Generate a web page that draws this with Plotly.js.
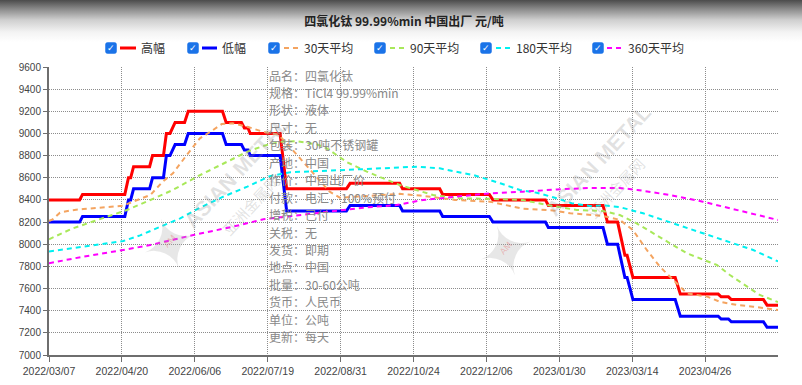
<!DOCTYPE html>
<html><head><meta charset="utf-8">
<script src="https://cdn.plot.ly/plotly-3.0.1.min.js"></script>
<style>
html,body{margin:0;padding:0;width:802px;height:385px;overflow:hidden;}
body{background:linear-gradient(to bottom,#4b4b4b 0px,#8a8a8a 9px,#cfcfcf 20px,#f3f3f3 32px,#ffffff 42px);}
#chart{width:802px;height:385px;}
</style></head><body><div id="chart"></div>
<script>
// ---------- data ----------
const chartTitle = '四氯化钛 99.99%min 中国出厂 元/吨';
const tickLabels = ['2022/03/07','2022/04/20','2022/06/06','2022/07/19','2022/08/31','2022/10/24','2022/12/06','2023/01/30','2023/03/14','2023/04/26'];
const seriesNames = ['高幅','低幅','30天平均','90天平均','180天平均','360天平均'];

// time in tick intervals (one interval between consecutive tick labels)
const priceT = [0,0.42,0.46,1.04,1.09,1.12,1.16,1.38,1.42,1.57,1.61,1.66,1.73,1.86,1.91,2.38,2.43,2.64,2.68,2.73,2.76,3.17,3.26,4.08,4.13,4.81,4.85,5.36,5.40,6.04,6.09,6.81,6.85,7.60,7.66,7.80,7.90,7.93,8.01,8.59,8.66,9.18,9.22,9.32,9.36,9.80,9.85,10];
const highPrice = [8400,8400,8450,8450,8600,8600,8700,8700,8800,8800,9000,9000,9100,9100,9200,9200,9100,9100,9050,9050,9000,9000,8500,8500,8550,8550,8500,8500,8450,8450,8400,8400,8350,8350,8200,8200,7900,7900,7700,7700,7550,7550,7525,7525,7500,7500,7450,7450];
const lowPrice  = [8200,8200,8250,8250,8400,8400,8500,8500,8600,8600,8800,8800,8900,8900,9000,9000,8900,8900,8850,8850,8800,8800,8300,8300,8350,8350,8300,8300,8250,8250,8200,8200,8150,8150,8000,8000,7700,7700,7500,7500,7350,7350,7325,7325,7300,7300,7250,7250];

const ma30T = [0,0.05,0.15,0.29,0.47,0.70,1.02,1.15,1.39,1.56,1.70,1.89,2.07,2.25,2.37,2.52,2.72,2.93,3.14,3.24,3.40,3.58,3.72,3.85,3.99,4.13,4.40,4.81,5.09,5.57,6.05,6.50,6.91,7.15,7.60,7.83,8.01,8.20,8.38,8.56,8.75,9.03,9.20,9.44,9.66,10];
const ma30V = [8210,8225,8285,8305,8318,8330,8348,8384,8444,8565,8640,8806,8956,9031,9085,9092,9061,9016,8990,8926,8806,8670,8565,8474,8420,8425,8440,8455,8440,8400,8384,8320,8305,8280,8255,8220,8128,7948,7797,7677,7557,7527,7481,7451,7436,7406];

const ma90T = [0,0.33,0.80,1.07,1.39,1.70,2.03,2.44,2.72,2.93,3.17,3.40,3.68,3.81,4.09,4.36,4.81,5.27,5.64,6.05,6.50,6.91,7.24,7.60,7.83,8.06,8.28,8.52,8.75,8.97,9.16,9.34,9.57,9.75,10];
const ma90V = [8045,8144,8249,8309,8399,8490,8610,8745,8835,8885,8925,8930,8900,8866,8740,8655,8535,8444,8414,8410,8399,8345,8309,8300,8264,8189,8099,8008,7918,7858,7813,7722,7617,7542,7478];

const ma180T = [0,0.47,0.70,1.02,1.25,1.48,1.80,2.07,2.39,2.72,3.03,3.31,3.58,3.85,4.31,4.72,5.05,5.36,5.82,6.19,6.46,6.69,6.94,7.17,7.42,7.63,7.83,8.15,8.42,8.75,9.11,9.38,9.66,10];
const ma180V = [7935,7978,7995,8029,8080,8144,8234,8330,8429,8520,8615,8650,8655,8665,8678,8692,8700,8685,8625,8550,8490,8465,8420,8370,8345,8350,8335,8279,8219,8144,8068,8008,7948,7845];

const ma360T = [0,0.47,1.02,1.39,1.98,2.52,2.94,3.62,4.31,4.77,5.13,5.60,6.05,6.50,6.97,7.42,7.83,8.07,8.52,8.97,9.44,10];
const ma360V = [7828,7888,7948,7993,8083,8158,8225,8279,8330,8354,8399,8430,8460,8474,8495,8508,8508,8490,8444,8384,8309,8219];

const infoRows = ['品名：四氯化钛','规格：TiCl4 99.99%min','形状：液体','尺寸：无','包装：30吨不锈钢罐','产地：中国','作价：中国出厂价','付款：电汇，100%预付','增税：已付','关税：无','发货：即期','地点：中国','批量：30-60公吨','货币：人民币','单位：公吨','更新：每天'];

// ---------- styles ----------
const colors = ['#ff0000','#0000ff','#f4a460','#a8e85a','#00f0f0','#ff00ff'];
const W = 802, H = 385, ML = 49, MR = 24, MT = 67, MB = 30;
const PW = W - ML - MR, PH = H - MT - MB;
const fx = px => (px - ML) / PW;
const fy = py => (H - MB - py) / PH;
const cjk = '"Noto Sans CJK SC", "Noto Sans", sans-serif';
const dashPat = '5px,4px';

const seriesT = [priceT, priceT, ma30T, ma90T, ma180T, ma360T];
const seriesV = [highPrice, lowPrice, ma30V, ma90V, ma180V, ma360V];

const traces = seriesNames.map((name, i) => ({
  type: 'scatter', mode: 'lines', name: name,
  x: seriesT[i], y: seriesV[i],
  line: i < 2 ? {color: colors[i], width: 3} : {color: colors[i], width: 2, dash: dashPat},
  hoverinfo: 'skip', showlegend: false
}));

// ---------- custom legend (checkbox + line + text) ----------
const legendPos = [
  {cb: 111, l0: 120, l1: 136, tx: 139},
  {cb: 193, l0: 202, l1: 217, tx: 220},
  {cb: 274, l0: 284, l1: 299, tx: 302},
  {cb: 380, l0: 390, l1: 405, tx: 408},
  {cb: 486, l0: 496, l1: 511, tx: 514},
  {cb: 598, l0: 607, l1: 622, tx: 626}
];
const legY = 48;
const shapes = [];
const annotations = [];
function roundRect(x0, y0, x1, y1, r) {
  const rx = r / PW, ry = r / PH;
  const X0 = fx(x0), X1 = fx(x1), Y0 = fy(y1), Y1 = fy(y0);
  return `M${X0+rx},${Y0} L${X1-rx},${Y0} Q${X1},${Y0} ${X1},${Y0+ry} L${X1},${Y1-ry} Q${X1},${Y1} ${X1-rx},${Y1} L${X0+rx},${Y1} Q${X0},${Y1} ${X0},${Y1-ry} L${X0},${Y0+ry} Q${X0},${Y0} ${X0+rx},${Y0} Z`;
}
legendPos.forEach((p, i) => {
  shapes.push({type: 'path', xref: 'paper', yref: 'paper', path: roundRect(p.cb - 5.5, legY - 5.5, p.cb + 5.5, legY + 5.5, 2),
    fillcolor: '#1a73e8', line: {color: '#1a73e8', width: 0.5}});
  annotations.push({xref: 'paper', yref: 'paper', x: fx(p.cb), y: fy(legY), text: '✓', showarrow: false,
    xanchor: 'center', yanchor: 'middle', font: {family: 'DejaVu Sans', size: 9, color: '#ffffff'}});
  shapes.push({type: 'line', xref: 'paper', yref: 'paper', x0: fx(p.l0), x1: fx(p.l1), y0: fy(legY), y1: fy(legY),
    line: i < 2 ? {color: colors[i], width: 3} : {color: colors[i], width: 2, dash: dashPat}});
  annotations.push({xref: 'paper', yref: 'paper', x: fx(p.tx), y: fy(legY), text: seriesNames[i], showarrow: false,
    xanchor: 'left', yanchor: 'middle', font: {family: cjk, size: 12, color: '#333333'}});
});

// ---------- watermarks ----------
const wm = 'rgba(150,150,150,0.28)';
[[170, 245], [506, 252]].forEach(c => {
  annotations.push({xref: 'paper', yref: 'paper', x: fx(c[0]), y: fy(c[1]), text: '✦', showarrow: false,
    xanchor: 'center', yanchor: 'middle', textangle: -20, font: {family: 'DejaVu Sans', size: 70, color: 'rgba(170,170,170,0.28)'}});
  annotations.push({xref: 'paper', yref: 'paper', x: fx(c[0]), y: fy(c[1] - 4), text: 'AM', showarrow: false,
    xanchor: 'center', yanchor: 'middle', textangle: -50, font: {family: 'Liberation Sans', size: 9, color: 'rgba(230,90,90,0.35)'}});
});
[[236, 172, 250, 205], [598, 160, 615, 188]].forEach(c => {
  annotations.push({xref: 'paper', yref: 'paper', x: fx(c[0]), y: fy(c[1]), text: '<b>ASIAN METAL</b>', showarrow: false,
    xanchor: 'center', yanchor: 'middle', textangle: -47, font: {family: 'Liberation Sans', size: 21, color: wm}});
  annotations.push({xref: 'paper', yref: 'paper', x: fx(c[2]), y: fy(c[3]), text: '亚洲金属网', showarrow: false,
    xanchor: 'center', yanchor: 'middle', textangle: -47, font: {family: cjk, size: 15, color: wm}});
});

// ---------- product info text ----------
infoRows.forEach((row, i) => {
  annotations.push({xref: 'paper', yref: 'paper', x: fx(266.5), y: fy(75 + 17.45 * i), text: row, showarrow: false,
    xanchor: 'left', yanchor: 'middle', font: {family: cjk, size: 12, color: '#888888'}});
});

const axisCommon = {
  showgrid: true, gridcolor: '#8c8c8c', griddash: '1px,1px', gridwidth: 1,
  showline: true, linecolor: '#6e6e6e', linewidth: 2, ticks: 'outside', tickcolor: '#6e6e6e', tickwidth: 1,
  zeroline: false, fixedrange: true
};

const layout = {
  width: W, height: H,
  margin: {l: ML, r: MR, t: MT, b: MB, pad: 0},
  paper_bgcolor: 'rgba(0,0,0,0)', plot_bgcolor: 'rgba(0,0,0,0)',
  title: {text: '<b>' + chartTitle + '</b>', xref: 'container', yref: 'container', x: 404 / W, y: 1 - 22 / H,
    xanchor: 'center', yanchor: 'middle', font: {family: cjk, size: 12, color: '#222222'}},
  showlegend: false,
  xaxis: Object.assign({}, axisCommon, {
    range: [0, 10], tickmode: 'array', tickvals: tickLabels.map((_, i) => i), ticktext: tickLabels,
    ticklen: 5, tickfont: {family: 'Liberation Sans, Arial, sans-serif', size: 10.5, color: '#444444'}
  }),
  yaxis: Object.assign({}, axisCommon, {
    range: [7000, 9600], tick0: 7000, dtick: 200, ticklen: 4,
    tickfont: {family: 'Liberation Sans, Arial, sans-serif', size: 10, color: '#444444'}
  }),
  shapes: shapes,
  annotations: annotations
};

Plotly.newPlot('chart', traces, layout, {displayModeBar: false, staticPlot: true});
</script>
</body></html>
